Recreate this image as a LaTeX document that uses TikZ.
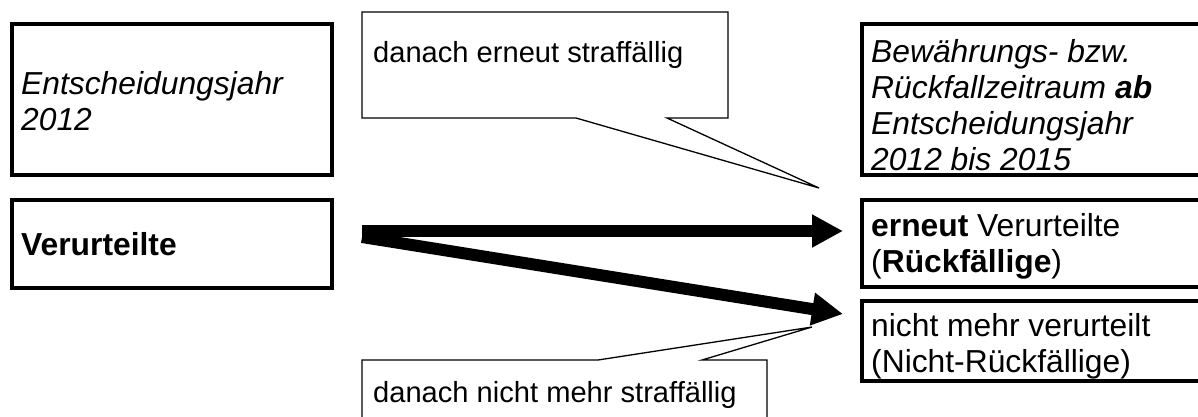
\documentclass[tikz,border=0pt]{standalone}
\usepackage{fontspec}
\setmainfont{Liberation Sans}
\usetikzlibrary{arrows.meta}
\begin{document}
\begin{tikzpicture}[x=1pt,y=-1pt,
  box/.style={draw,line width=4pt,anchor=north west,inner sep=0pt,outer sep=0pt},
  txt/.style={anchor=base west,inner sep=0pt,align=left,font=\fontsize{31.8}{36}\selectfont},
  ctxt/.style={anchor=base west,inner sep=0pt,font=\fontsize{29.1}{35}\selectfont},
  call/.style={draw,line width=1.3pt,fill=white,line join=miter},
  flow/.style={line width=12pt,-{Triangle[length=31pt,width=31pt]}}]
\useasboundingbox (0,0) rectangle (1198,416);
\clip (0,0) rectangle (1198,416);
% boxes
\node[box,minimum width=320pt,minimum height=151pt] (b1) at (12,24) {};
\node[box,minimum width=320pt,minimum height=88pt] (b2) at (12,200) {};
\node[box,minimum width=360pt,minimum height=151pt] (r1) at (862,24) {};
\node[box,minimum width=360pt,minimum height=87pt] (r2) at (862,200) {};
\node[box,minimum width=360pt,minimum height=80pt] (r3) at (862,301) {};
% texts (base anchor = baseline of last line)
\node[txt,font=\fontsize{31.8}{36}\selectfont\itshape] (t1) at (21,130) {Entscheidungsjahr\\2012};
\node[txt,font=\fontsize{31.8}{36}\selectfont\bfseries] (t2) at (21,255) {Verurteilte};
\node[txt,font=\fontsize{31.8}{36}\selectfont\itshape] (t3) at (871,170) {Bewährungs- bzw.\\Rückfallzeitraum \textbf{ab}\\Entscheidungsjahr\\2012 bis 2015};
\node[txt] (t4) at (871,272) {\textbf{erneut} Verurteilte\\(\textbf{Rückfällige})};
\node[txt] (t5) at (871,372) {nicht mehr verurteilt\\(Nicht-Rückfällige)};
% arrows
\coordinate (s1) at (362,231);
\coordinate (s2) at (362,237);
\coordinate (e1) at (843,231);
\coordinate (e2) at (843,314);
\draw[flow] (s1) -- (e1);
\draw[flow] (s2) -- (e2);
% callouts
\draw[call] (362,12) -- (728,12) -- (728,118) -- (667,118) -- (819,188) -- (576,118) -- (362,118) -- cycle;
\node[ctxt] (c1) at (373,62) {danach erneut straffällig};
\draw[call] (362,360) -- (598,360) -- (812,327) -- (702,360) -- (767,360) -- (767,440) -- (362,440) -- cycle;
\node[ctxt] (c2) at (373,402) {danach nicht mehr straffällig};
\end{tikzpicture}
\end{document}
